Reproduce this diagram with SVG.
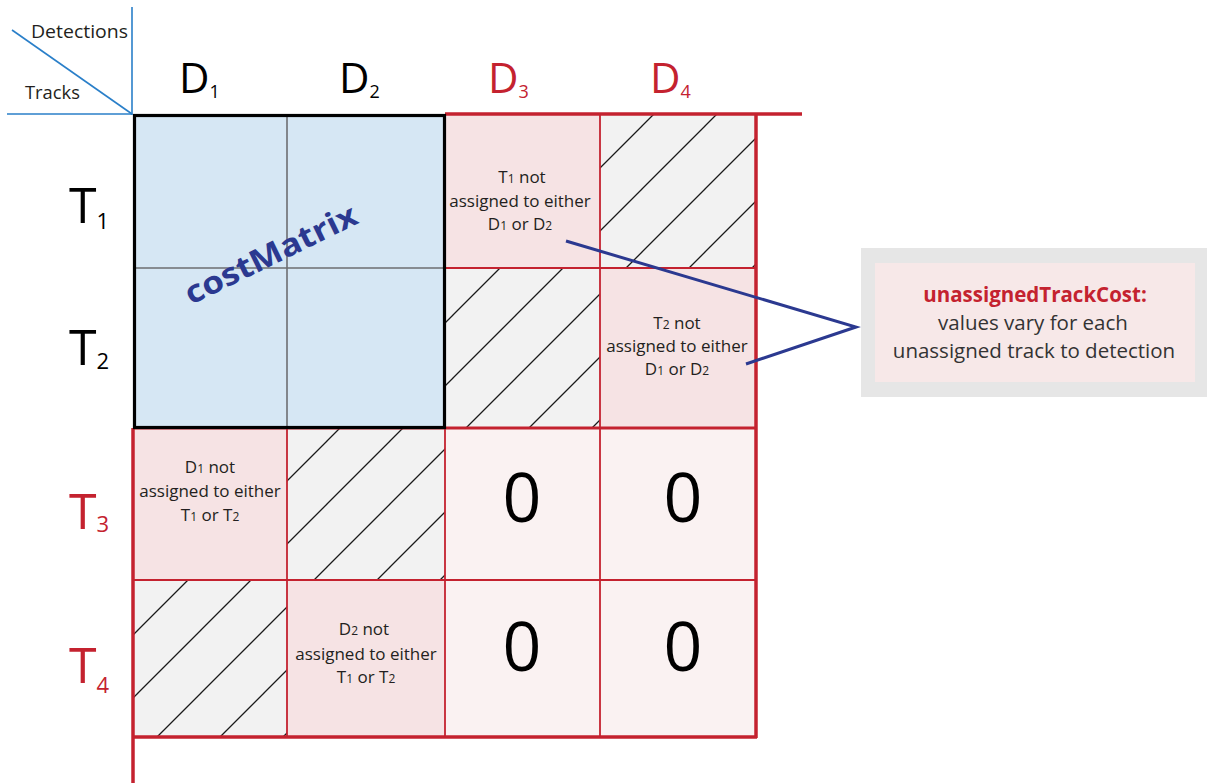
<svg xmlns="http://www.w3.org/2000/svg" width="1207" height="783" viewBox="0 0 1207 783">
<style>
.lbl{font-family:"Open Sans","Liberation Sans",sans-serif;}
.big{font-size:42px;fill:#000;}
.bigt{font-size:50px;fill:#000;}
.red{fill:#c4222f;}
.sub{font-size:18px;}
.subt{font-size:22px;}
.cell{font-family:"Open Sans","Liberation Sans",sans-serif;font-size:17px;fill:#231f20;text-anchor:middle;}
.cs{font-size:12px;}
.zero{font-family:"Open Sans","Liberation Sans",sans-serif;font-size:68px;fill:#000;text-anchor:middle;}
.pink{fill:#f6e3e4;}
.zf{fill:#faf2f2;}
.hat{fill:url(#hatch);}
.rl{stroke:#c4222f;fill:none;}
.axis{stroke:#2a7fc9;stroke-width:1.6;fill:none;}
.co{font-family:"Open Sans","Liberation Sans",sans-serif;font-size:20.5px;text-anchor:middle;}
</style>
<defs>
<pattern id="hatch" patternUnits="userSpaceOnUse" x="12" y="0" width="63" height="63">
<rect width="63" height="63" fill="#f2f2f2"/>
<path d="M-5,68 L68,-5 M-5,5 L5,-5 M58,68 L68,58" stroke="#1a1a1a" stroke-width="1.3"/>
</pattern>
</defs>
<rect width="1207" height="783" fill="#fff"/>

<g id="axis-header">
<line class="axis" x1="132" y1="7" x2="132" y2="115"/>
<line class="axis" x1="7" y1="114" x2="132" y2="114"/>
<line class="axis" x1="12" y1="30" x2="132" y2="114"/>
<text class="lbl" x="31" y="38" font-size="18" fill="#231f20" textLength="97" lengthAdjust="spacingAndGlyphs">Detections</text>
<text class="lbl" x="25" y="99" font-size="18" fill="#231f20" textLength="55" lengthAdjust="spacingAndGlyphs">Tracks</text>
</g>

<g id="col-labels">
<text class="lbl big" x="179" y="93">D<tspan class="sub" dy="5">1</tspan></text>
<text class="lbl big" x="339" y="93">D<tspan class="sub" dy="5">2</tspan></text>
<text class="lbl big red" x="488" y="93">D<tspan class="sub" dy="5">3</tspan></text>
<text class="lbl big red" x="650" y="93">D<tspan class="sub" dy="5">4</tspan></text>
</g>

<g id="row-labels">
<text class="lbl bigt" x="69" y="223">T<tspan class="subt" dy="6">1</tspan></text>
<text class="lbl bigt" x="69" y="365">T<tspan class="subt" dy="4">2</tspan></text>
<text class="lbl bigt red" x="69" y="529">T<tspan class="subt" dy="3">3</tspan></text>
<text class="lbl bigt red" x="69" y="683">T<tspan class="subt" dy="10">4</tspan></text>
</g>

<g id="costMatrix">
<rect x="134" y="115" width="311" height="313" fill="#d6e7f4"/>
<line x1="287" y1="115" x2="287" y2="428" stroke="#6d6e71" stroke-width="1.6"/>
<line x1="134" y1="268" x2="445" y2="268" stroke="#6d6e71" stroke-width="1.6"/>
</g>

<g id="cell-T1D3">
<rect class="pink" x="445" y="115" width="155" height="153"/>
<text class="cell" x="522" y="183">T<tspan class="cs">1</tspan> not</text>
<text class="cell" x="520" y="207">assigned to either</text>
<text class="cell" x="520" y="230">D<tspan class="cs">1</tspan> or D<tspan class="cs">2</tspan></text>
</g>
<g id="cell-T1D4"><rect class="hat" x="600" y="115" width="156" height="153"/></g>
<g id="cell-T2D3"><rect class="hat" x="445" y="268" width="155" height="160"/></g>
<g id="cell-T2D4">
<rect class="pink" x="600" y="268" width="156" height="160"/>
<text class="cell" x="677" y="329">T<tspan class="cs">2</tspan> not</text>
<text class="cell" x="677" y="352">assigned to either</text>
<text class="cell" x="677" y="375">D<tspan class="cs">1</tspan> or D<tspan class="cs">2</tspan></text>
</g>
<g id="cell-T3D1">
<rect class="pink" x="134" y="428" width="153" height="152"/>
<text class="cell" x="210" y="473">D<tspan class="cs">1</tspan> not</text>
<text class="cell" x="210" y="497">assigned to either</text>
<text class="cell" x="210" y="521">T<tspan class="cs">1</tspan> or T<tspan class="cs">2</tspan></text>
</g>
<g id="cell-T3D2"><rect class="hat" x="287" y="428" width="158" height="152"/></g>
<g id="cell-T4D1"><rect class="hat" x="134" y="580" width="153" height="157"/></g>
<g id="cell-T4D2">
<rect class="pink" x="287" y="580" width="158" height="157"/>
<text class="cell" x="364" y="635">D<tspan class="cs">2</tspan> not</text>
<text class="cell" x="366" y="660">assigned to either</text>
<text class="cell" x="366" y="683">T<tspan class="cs">1</tspan> or T<tspan class="cs">2</tspan></text>
</g>
<g id="cell-T3D3"><rect class="zf" x="445" y="428" width="155" height="152"/><text class="zero" x="522" y="522">0</text></g>
<g id="cell-T3D4"><rect class="zf" x="600" y="428" width="156" height="152"/><text class="zero" x="683" y="522">0</text></g>
<g id="cell-T4D3"><rect class="zf" x="445" y="580" width="155" height="157"/><text class="zero" x="522" y="671">0</text></g>
<g id="cell-T4D4"><rect class="zf" x="600" y="580" width="156" height="157"/><text class="zero" x="683" y="671">0</text></g>

<g id="red-grid">
<line class="rl" stroke-width="3.5" x1="445" y1="114" x2="802" y2="114"/>
<line class="rl" stroke-width="3.5" x1="756" y1="114" x2="756" y2="738"/>
<line class="rl" stroke-width="3.5" x1="133" y1="428" x2="133" y2="783"/>
<line class="rl" stroke-width="3.5" x1="133" y1="737" x2="757" y2="737"/>
<line class="rl" stroke-width="3" x1="133" y1="428" x2="756" y2="428"/>
<line class="rl" stroke-width="1.8" x1="445" y1="268" x2="756" y2="268"/>
<line class="rl" stroke-width="1.8" x1="600" y1="115" x2="600" y2="737"/>
<line class="rl" stroke-width="1.8" x1="133" y1="580" x2="756" y2="580"/>
<line class="rl" stroke-width="1.8" x1="287" y1="428" x2="287" y2="737"/>
<line class="rl" stroke-width="1.8" x1="445" y1="428" x2="445" y2="737"/>
</g>

<g id="costMatrix-frame">
<rect x="134.5" y="115.5" width="310" height="312" fill="none" stroke="#000" stroke-width="3.2"/>
<text x="0" y="0" transform="translate(191,305) rotate(-26)" font-family="'Open Sans','Liberation Sans',sans-serif" font-weight="bold" font-size="31" fill="#2b3990" textLength="188" lengthAdjust="spacingAndGlyphs">costMatrix</text>
</g>

<g id="callout">
<rect x="861" y="248" width="346" height="149" fill="#e6e6e6"/>
<rect x="875" y="263" width="320" height="119" fill="#f7e8e8"/>
<text class="co" x="1035" y="302" font-weight="bold" fill="#c4222f">unassignedTrackCost:</text>
<text class="co" x="1033" y="330" fill="#333">values vary for each</text>
<text class="co" x="1034" y="358" fill="#333">unassigned track to detection</text>
</g>

<g id="connectors">
<polyline points="566,241 856,327 746,364" fill="none" stroke="#2b3990" stroke-width="3" stroke-linejoin="miter"/>
</g>
</svg>
